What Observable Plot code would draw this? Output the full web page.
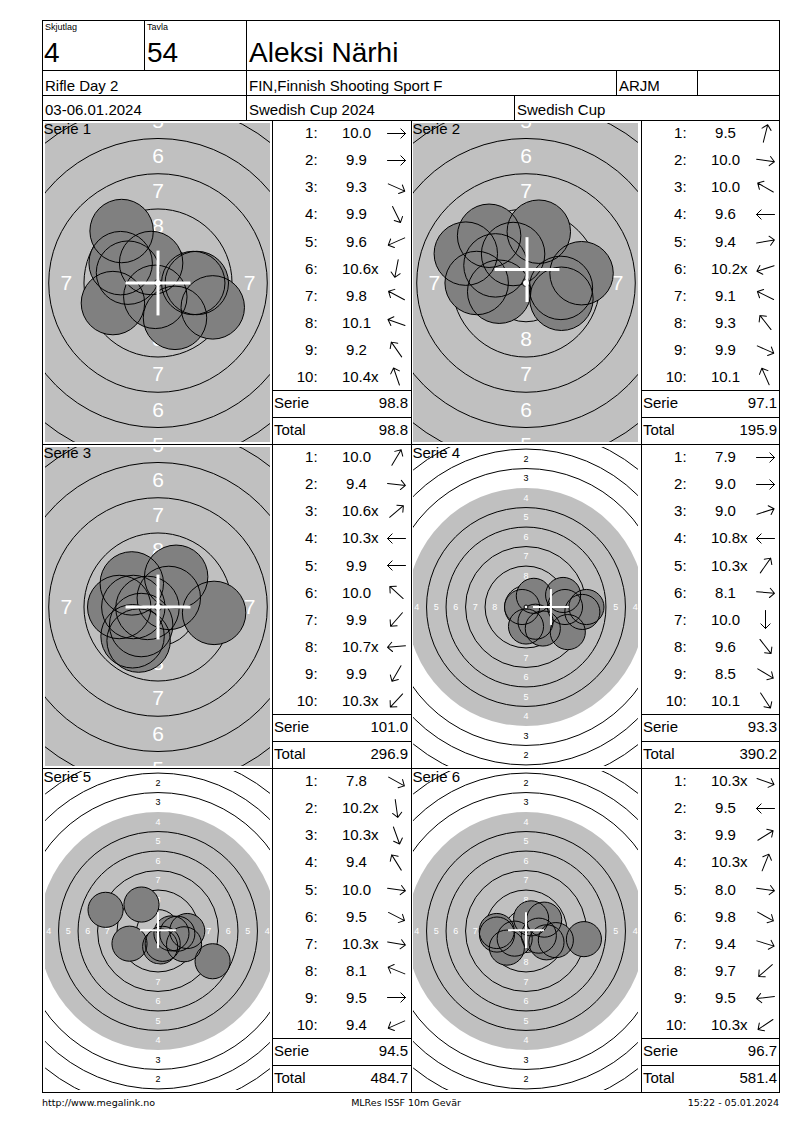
<!DOCTYPE html>
<html><head><meta charset="utf-8">
<script src="https://cdn.jsdelivr.net/npm/d3@7"></script>
<script src="https://cdn.jsdelivr.net/npm/@observablehq/plot@0.6"></script>
<style>
html,body{margin:0;padding:0;background:#fff;}
#page{position:relative;width:800px;height:1130px;overflow:hidden;font-family:"Liberation Sans",Arial,sans-serif;color:#000;}
.t{position:absolute;white-space:nowrap;line-height:1;}
.ln{position:absolute;background:#000;}
.abs{position:absolute;}
.abs svg{display:block;}
.foot{font-family:"DejaVu Sans",Verdana,sans-serif;}
</style></head><body><div id="page"></div>
<script>
// ---------- DATA ----------
const headerLabels = ["Skjutlag", "Tavla"];
const headerValues = ["4", "54"];
const shooterName = "Aleksi Närhi";
const eventRow1 = ["Rifle Day 2", "FIN,Finnish Shooting Sport F", "ARJM", ""];
const eventRow2 = ["03-06.01.2024", "Swedish Cup 2024", "Swedish Cup"];
const footerTexts = ["http://www.megalink.no", "MLRes ISSF 10m Gevär", "15:22 - 05.01.2024"];

const serieNames = ["Serie 1", "Serie 2", "Serie 3", "Serie 4", "Serie 5", "Serie 6"];
const serieView = ["zoom", "zoom", "zoom", "full", "full", "full"];

const serieScores1 = ["10.0","9.9","9.3","9.9","9.6","10.6x","9.8","10.1","9.2","10.4x"];
const serieScores2 = ["9.5","10.0","10.0","9.6","9.4","10.2x","9.1","9.3","9.9","10.1"];
const serieScores3 = ["10.0","9.4","10.6x","10.3x","9.9","10.0","9.9","10.7x","9.9","10.3x"];
const serieScores4 = ["7.9","9.0","9.0","10.8x","10.3x","8.1","10.0","9.6","8.5","10.1"];
const serieScores5 = ["7.8","10.2x","10.3x","9.4","10.0","9.5","10.3x","8.1","9.5","9.4"];
const serieScores6 = ["10.3x","9.5","9.9","10.3x","8.0","9.8","9.4","9.7","9.5","10.3x"];

// shot direction, degrees counter-clockwise from "right"
const shotAngles1 = [0, 0, -24, -64, 204, 259, 152, 161, 125, 109];
const shotAngles2 = [76, -8, 150, 180, 10, 198, 154, 128, -24, 114];
const shotAngles3 = [59, -6, 40, 180, 180, 138, 229, 185, 240, 227];
const shotAngles4 = [0, 0, 18, 180, 55, -5, 270, -52, -31, -57];
const shotAngles5 = [-29, -82, -70, 122, -8, -27, -10, 158, 0, 204];
const shotAngles6 = [-20, 180, 32, 68, -8, -29, -17, 221, 187, 214];

// group centre (white cross), mm
const groupCenterX = [0, 0.07, 0, 3.2, 0, 0];
const groupCenterY = [0, 0.95, 0, 0, 0.1, 0.1];

// 10 m air rifle target (mm)
const ringScores = [10, 9, 8, 7, 6, 5, 4, 3, 2, 1];
const ringDiameters = [0.5, 5.5, 10.5, 15.5, 20.5, 25.5, 30.5, 35.5, 40.5, 45.5];
const aimingMarkDiameter = 30.5;
const pelletDiameter = 4.5;

const allScores = [serieScores1, serieScores2, serieScores3, serieScores4, serieScores5, serieScores6];
const allAngles = [shotAngles1, shotAngles2, shotAngles3, shotAngles4, shotAngles5, shotAngles6];

// ---------- LAYOUT / STYLE ----------
const pxPerMm = {zoom: 14.1, full: 7.8};
const ringLabelSize = {zoom: 21, full: 9};
const crossStroke = {zoom: 3, full: 2};
const crossArm = 2.3;
const TW = 225, TH = 319;
const colLeft = [42, 411];
const targetLeft = [45, 413];
const tableLeft = [272, 641];
const tableRight = [410, 779];
const rowTop = [120, 444, 768];
const FONT = '"Liberation Sans", Arial, sans-serif';

const page = document.getElementById("page");
function addText(str, x, baseline, size, align = "left", cls = "") {
  const el = document.createElement("div");
  el.className = "t " + cls;
  el.textContent = str;
  el.style.fontSize = size + "px";
  el.style.top = (baseline - 0.8465 * size) + "px";
  if (align === "left") el.style.left = x + "px";
  else if (align === "right") el.style.right = (800 - x) + "px";
  else { el.style.left = x + "px"; el.style.transform = "translateX(-50%)"; }
  page.appendChild(el);
  return el;
}
function hline(x1, x2, y) {
  const el = document.createElement("div");
  el.className = "ln";
  Object.assign(el.style, {left: x1 + "px", top: y + "px", width: (x2 - x1 + 1) + "px", height: "1px"});
  page.appendChild(el);
}
function vline(x, y1, y2) {
  const el = document.createElement("div");
  el.className = "ln";
  Object.assign(el.style, {left: x + "px", top: y1 + "px", width: "1px", height: (y2 - y1 + 1) + "px"});
  page.appendChild(el);
}
function place(node, left, top) {
  const d = document.createElement("div");
  d.className = "abs";
  d.style.left = left + "px";
  d.style.top = top + "px";
  d.appendChild(node);
  page.appendChild(d);
}

const ringStep = (ringDiameters[1] - ringDiameters[0]) / 2;

function targetPlot(i) {
  const view = serieView[i];
  const s = pxPerMm[view];
  const fs = ringLabelSize[view];
  const hw = TW / 2 / s, hh = TH / 2 / s;
  const shots = allScores[i].map((sc, j) => {
    const d = (11 - parseFloat(sc)) * ringStep;
    const a = allAngles[i][j] * Math.PI / 180;
    return {x: d * Math.cos(a), y: d * Math.sin(a), r: pelletDiameter / 2};
  });
  const rings = ringDiameters.map((D, idx) => ({score: ringScores[idx], x: 0, y: 0, r: D / 2}));
  const ringLines = rings.filter(d => d.score !== 10 && d.r !== aimingMarkDiameter / 2);
  const tenDot = rings.filter(d => d.score === 10);
  const labels = [];
  ringDiameters.forEach((D, idx) => {
    if (idx < 2) return;
    const rc = (D + ringDiameters[idx - 1]) / 4;
    const onBlack = D <= aimingMarkDiameter;
    for (const [ux, uy] of [[0, 1], [0, -1], [1, 0], [-1, 0]]) {
      labels.push({x: ux * rc, y: uy * rc, text: String(ringScores[idx]), onBlack});
    }
  });
  // keep only labels that are at least partly inside the picture
  const visible = labels.filter(d => Math.abs(d.x) <= hw + (fs * 0.3) / s && Math.abs(d.y) <= hh + (fs * 0.35) / s);
  const cx = groupCenterX[i], cy = groupCenterY[i];
  const cross = [
    {x1: cx - crossArm, x2: cx + crossArm, y1: cy, y2: cy},
    {x1: cx, x2: cx, y1: cy - crossArm, y2: cy + crossArm}
  ];
  return Plot.plot({
    width: TW, height: TH, margin: 0,
    x: {domain: [-hw, hw], axis: null},
    y: {domain: [-hh, hh], axis: null},
    r: {type: "linear", domain: [0, 1], range: [0, s]},
    style: {background: "white", fontFamily: FONT, overflow: "hidden"},
    marks: [
      Plot.dot([{x: 0, y: 0, r: aimingMarkDiameter / 2}], {x: "x", y: "y", r: "r", fill: "#c0c0c0"}),
      Plot.dot(ringLines, {x: "x", y: "y", r: "r", stroke: "black", strokeWidth: 1}),
      Plot.text(visible.filter(d => d.onBlack), {x: "x", y: "y", text: "text", fill: "white", fontSize: fs}),
      Plot.text(visible.filter(d => !d.onBlack), {x: "x", y: "y", text: "text", fill: "black", fontSize: fs}),
      Plot.dot(shots, {x: "x", y: "y", r: "r", fill: "#808080"}),
      Plot.dot(shots, {x: "x", y: "y", r: "r", stroke: "black", strokeWidth: 1}),
      Plot.dot(tenDot, {x: "x", y: "y", r: "r", fill: "white", stroke: "black", strokeWidth: 1}),
      Plot.link(cross, {x1: "x1", y1: "y1", x2: "x2", y2: "y2", stroke: "white", strokeWidth: crossStroke[view]})
    ]
  });
}

function arrowPlot(i) {
  const rows = allAngles[i].map((a, j) => ({n: j + 1, angle: a}));
  return Plot.plot({
    width: 30, height: 271, margin: 0,
    y: {type: "point", domain: rows.map(d => d.n), padding: 0.5, axis: null},
    style: {background: "transparent", overflow: "visible"},
    marks: [
      Plot.vector(rows, {y: "n", rotate: d => 90 - d.angle, length: 18, anchor: "middle", stroke: "black", strokeWidth: 1, r: 4.5})
    ]
  });
}

// ---------- HEADER ----------
addText(headerLabels[0], 45, 31, 9);
addText(headerValues[0], 44, 63, 28);
addText(headerLabels[1], 147, 31, 9);
addText(headerValues[1], 147, 63, 28);
addText(shooterName, 249, 63, 28);
addText(eventRow1[0], 45, 90.5, 15);
addText(eventRow1[1], 249, 90.5, 15);
addText(eventRow1[2], 619, 90.5, 15);
addText(eventRow2[0], 45, 114.5, 15);
addText(eventRow2[1], 249, 114.5, 15);
addText(eventRow2[2], 517, 114.5, 15);

// ---------- PANELS ----------
let running = 0;
for (let i = 0; i < 6; i++) {
  const col = i % 2, row = Math.floor(i / 2);
  const top = rowTop[row];
  place(targetPlot(i), targetLeft[col], top + 3);
  addText(serieNames[i], colLeft[col] + 1.5, top + 14, 15);

  const tl = tableLeft[col];
  allScores[i].forEach((sc, j) => {
    const c = top + 12.5 + j * 27.1;
    const base = c + 5.37;
    addText((j + 1) + ":", tl + 45.6, base, 15, "right");
    const num = sc.replace("x", "");
    const el = addText(num, tl + 84.5, base, 15, "center");
    if (sc.includes("x")) {
      const sx = document.createElement("span");
      sx.textContent = "x";
      Object.assign(sx.style, {position: "absolute", left: "100%", top: "0"});
      el.appendChild(sx);
    }
  });
  place(arrowPlot(i), tl + 123.5 - 15, top + 12.5 - 13.55);

  const serieSum = Math.round(d3.sum(allScores[i], d => parseFloat(d)) * 10) / 10;
  running = Math.round((running + serieSum) * 10) / 10;
  addText("Serie", tl + 2, top + 282.5 + 5.37, 15);
  addText(serieSum.toFixed(1), tableRight[col] - 2, top + 282.5 + 5.37, 15, "right");
  addText("Total", tl + 2, top + 309 + 5.37, 15);
  addText(running.toFixed(1), tableRight[col] - 2, top + 309 + 5.37, 15, "right");

  hline(tl, tableRight[col], top + 270);
  hline(tl, tableRight[col], top + 297);
}

// ---------- GRID ----------
hline(42, 779, 20);
hline(42, 779, 70);
hline(42, 779, 95);
for (const y of [120, 444, 768, 1092]) hline(42, 779, y);
vline(42, 20, 1092);
vline(779, 20, 1092);
vline(144, 20, 70);
vline(246, 20, 120);
vline(616, 70, 95);
vline(697, 70, 95);
vline(514, 95, 120);
vline(272, 120, 1092);
vline(411, 120, 1092);
vline(641, 120, 1092);

// ---------- FOOTER ----------
addText(footerTexts[0], 42, 1106, 9.5, "left", "foot");
addText(footerTexts[1], 406, 1106, 9.5, "center", "foot");
addText(footerTexts[2], 779, 1106, 9.5, "right", "foot");
</script></body></html>
